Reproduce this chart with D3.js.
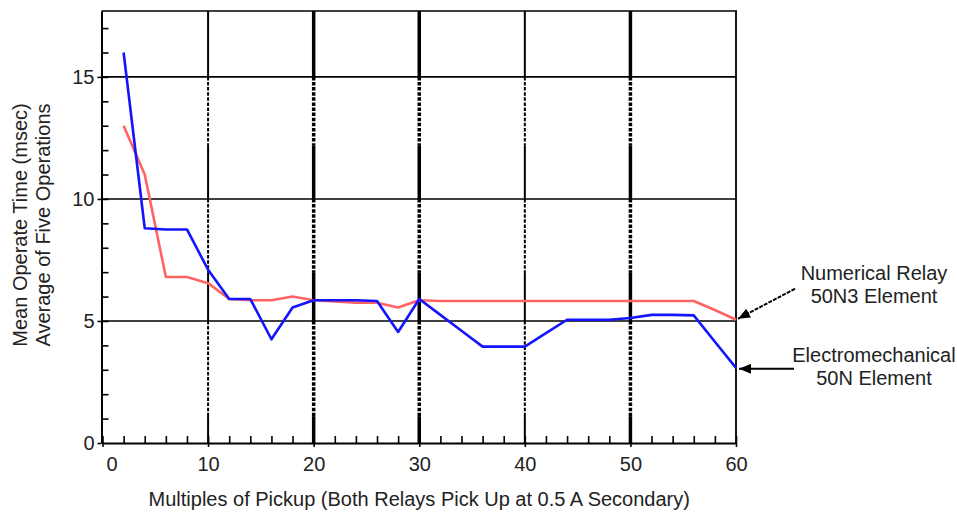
<!DOCTYPE html>
<html>
<head>
    <meta charset="UTF-8">
    <title>Mean Operate Time vs Multiples of Pickup</title>
    <script src="https://d3js.org/d3.v7.min.js"></script>
    <style>
        body { margin: 0; background: #fff; font-family: "Liberation Sans", Arial, sans-serif; }
        svg text { fill: #222; font-size: 20px; }
        .axis path, .axis line { stroke: #000; }
    </style>
</head>
<body>
    <div id="chart"></div>

    <script>
        // 数据
        const multiples = [2, 4, 6, 8, 10, 12, 14, 16, 18, 20, 22, 24, 26, 28, 30,
                           32, 34, 36, 38, 40, 42, 44, 46, 48, 50, 52, 54, 56, 58, 60];
        const numericalRelay = [13.0, 11.0, 6.8, 6.8, 6.55, 5.9, 5.85, 5.85, 6.0, 5.85, 5.8, 5.75, 5.75, 5.55, 5.85,
                                5.82, 5.82, 5.82, 5.82, 5.82, 5.82, 5.82, 5.82, 5.82, 5.82, 5.82, 5.82, 5.82, 5.45, 5.05];
        const electromech = [16.0, 8.8, 8.75, 8.75, 7.1, 5.9, 5.9, 4.25, 5.55, 5.85, 5.85, 5.85, 5.82, 4.55, 5.9,
                             5.25, 4.6, 3.95, 3.95, 3.95, 4.5, 5.05, 5.05, 5.05, 5.12, 5.25, 5.25, 5.23, 4.15, 3.08];
        const xTicks = [0, 10, 20, 30, 40, 50, 60];
        const yTicks = [0, 5, 10, 15];
        const seriesNames = [["Numerical Relay", "50N3 Element"], ["Electromechanical", "50N Element"]];

        const width = 957, height = 514;
        const x = d3.scaleLinear().domain([0, 60]).range([102.5, 736]);
        const y = d3.scaleLinear().domain([0, 17.7]).range([443, 11]);

        const svg = d3.select("#chart").append("svg")
            .attr("width", width).attr("height", height);

        // 水平网格线
        svg.append("g").selectAll("line")
            .data(yTicks.filter(d => d > 0))
            .join("line")
            .attr("x1", x(0)).attr("x2", x(60))
            .attr("y1", d => y(d)).attr("y2", d => y(d))
            .attr("stroke", "#000").attr("stroke-width", 1.6);

        // 顶部、右侧边框
        svg.append("line").attr("x1", x(0) - 1).attr("x2", x(60) + 1)
            .attr("y1", y(17.7)).attr("y2", y(17.7)).attr("stroke", "#000").attr("stroke-width", 1.6);
        svg.append("line").attr("x1", x(60)).attr("x2", x(60))
            .attr("y1", y(17.7)).attr("y2", y(0)).attr("stroke", "#000").attr("stroke-width", 1.8);

        // 垂直网格线（部分为虚线，模仿扫描效果）
        const dashedParts = [[12.2, 15], [7.0, 10], [1.1, 5]];
        const solidParts = [[15, 17.7], [10, 12.2], [5, 7.0], [0, 1.1]];
        const vGrid = svg.append("g");
        xTicks.filter(d => d > 0 && d < 60).forEach(v => {
            const w = (v === 10 || v === 40) ? 2 : 3.5;
            solidParts.forEach(p => vGrid.append("line")
                .attr("x1", x(v)).attr("x2", x(v)).attr("y1", y(p[0])).attr("y2", y(p[1]))
                .attr("stroke", "#000").attr("stroke-width", w));
            dashedParts.forEach(p => vGrid.append("line")
                .attr("x1", x(v)).attr("x2", x(v)).attr("y1", y(p[1])).attr("y2", y(p[0]))
                .attr("stroke", "#000").attr("stroke-width", w)
                .attr("stroke-dasharray", "3.5,1.6"));
        });

        // 坐标轴
        svg.append("g").attr("class", "axis")
            .attr("transform", `translate(${x(0) - 1},0)`)
            .call(d3.axisLeft(y).tickValues(yTicks).tickSize(4).tickSizeOuter(0).tickPadding(3));
        svg.append("g").attr("class", "axis")
            .attr("transform", `translate(${x(0) - 1},0)`)
            .call(d3.axisRight(y).tickValues(d3.range(1, 18)).tickSize(7).tickSizeOuter(0).tickFormat(""))
            .select(".domain").remove();

        const xAxis = svg.append("g").attr("class", "axis")
            .attr("transform", `translate(0,${y(0)})`)
            .call(d3.axisBottom(x).tickValues(xTicks).tickSize(4).tickSizeOuter(0).tickPadding(10));
        svg.append("g").attr("class", "axis")
            .attr("transform", `translate(0,${y(0)})`)
            .call(d3.axisTop(x).tickValues(d3.range(0, 61, 2)).tickSize(7).tickSizeOuter(0).tickFormat(""))
            .select(".domain").remove();

        svg.selectAll(".axis .domain").attr("stroke-width", 2);
        svg.selectAll(".axis .tick line").attr("stroke-width", 1.6);
        svg.selectAll(".axis text").attr("font-size", 20).attr("font-family", "Liberation Sans, Arial, sans-serif");
        xAxis.selectAll(".tick text").filter(d => d === 0).attr("dx", 9);

        // 数据线
        const line = d3.line().x((d, i) => x(multiples[i])).y(d => y(d));
        svg.append("path").datum(numericalRelay)
            .attr("fill", "none").attr("stroke", "#ff6363").attr("stroke-width", 2.6)
            .attr("stroke-linejoin", "round").attr("d", line);
        svg.append("path").datum(electromech)
            .attr("fill", "none").attr("stroke", "#1414ff").attr("stroke-width", 2.6)
            .attr("stroke-linejoin", "round").attr("d", line);

        // 轴标题
        svg.append("text")
            .attr("x", x(30)).attr("y", 506)
            .attr("text-anchor", "middle")
            .text("Multiples of Pickup (Both Relays Pick Up at 0.5 A Secondary)");

        const yTitle = svg.append("text")
            .attr("transform", "rotate(-90)")
            .attr("text-anchor", "middle");
        yTitle.append("tspan").attr("x", -225).attr("y", 27).text("Mean Operate Time (msec)");
        yTitle.append("tspan").attr("x", -225).attr("y", 50).text("Average of Five Operations");

        // 标注箭头
        svg.append("defs").append("marker")
            .attr("id", "arrow").attr("markerUnits", "userSpaceOnUse")
            .attr("viewBox", "0 0 12 10").attr("refX", 12).attr("refY", 5)
            .attr("markerWidth", 13).attr("markerHeight", 10).attr("orient", "auto")
            .append("path").attr("d", "M0,0L12,5L0,10Z").attr("fill", "#000");

        const lastIdx = multiples.length - 1;
        const tip1 = [x(60) + 2, y(numericalRelay[lastIdx]) - 1];
        const tip2 = [x(60) + 3, y(electromech[lastIdx]) + 1];
        svg.append("line")
            .attr("x1", tip1[0] + 57).attr("y1", tip1[1] - 30)
            .attr("x2", tip1[0]).attr("y2", tip1[1])
            .attr("stroke", "#000").attr("stroke-width", 2)
            .attr("stroke-dasharray", "4,1.2")
            .attr("marker-end", "url(#arrow)");
        svg.append("line")
            .attr("x1", tip2[0] + 55).attr("y1", tip2[1])
            .attr("x2", tip2[0]).attr("y2", tip2[1])
            .attr("stroke", "#000").attr("stroke-width", 2)
            .attr("marker-end", "url(#arrow)");

        // 标注文字
        const labelY = [280, 362];
        seriesNames.forEach((lines, k) => {
            const t = svg.append("text").attr("text-anchor", "middle");
            lines.forEach((s, j) => t.append("tspan")
                .attr("x", 874).attr("y", labelY[k] + j * 23).text(s));
        });
    </script>
</body>
</html>
